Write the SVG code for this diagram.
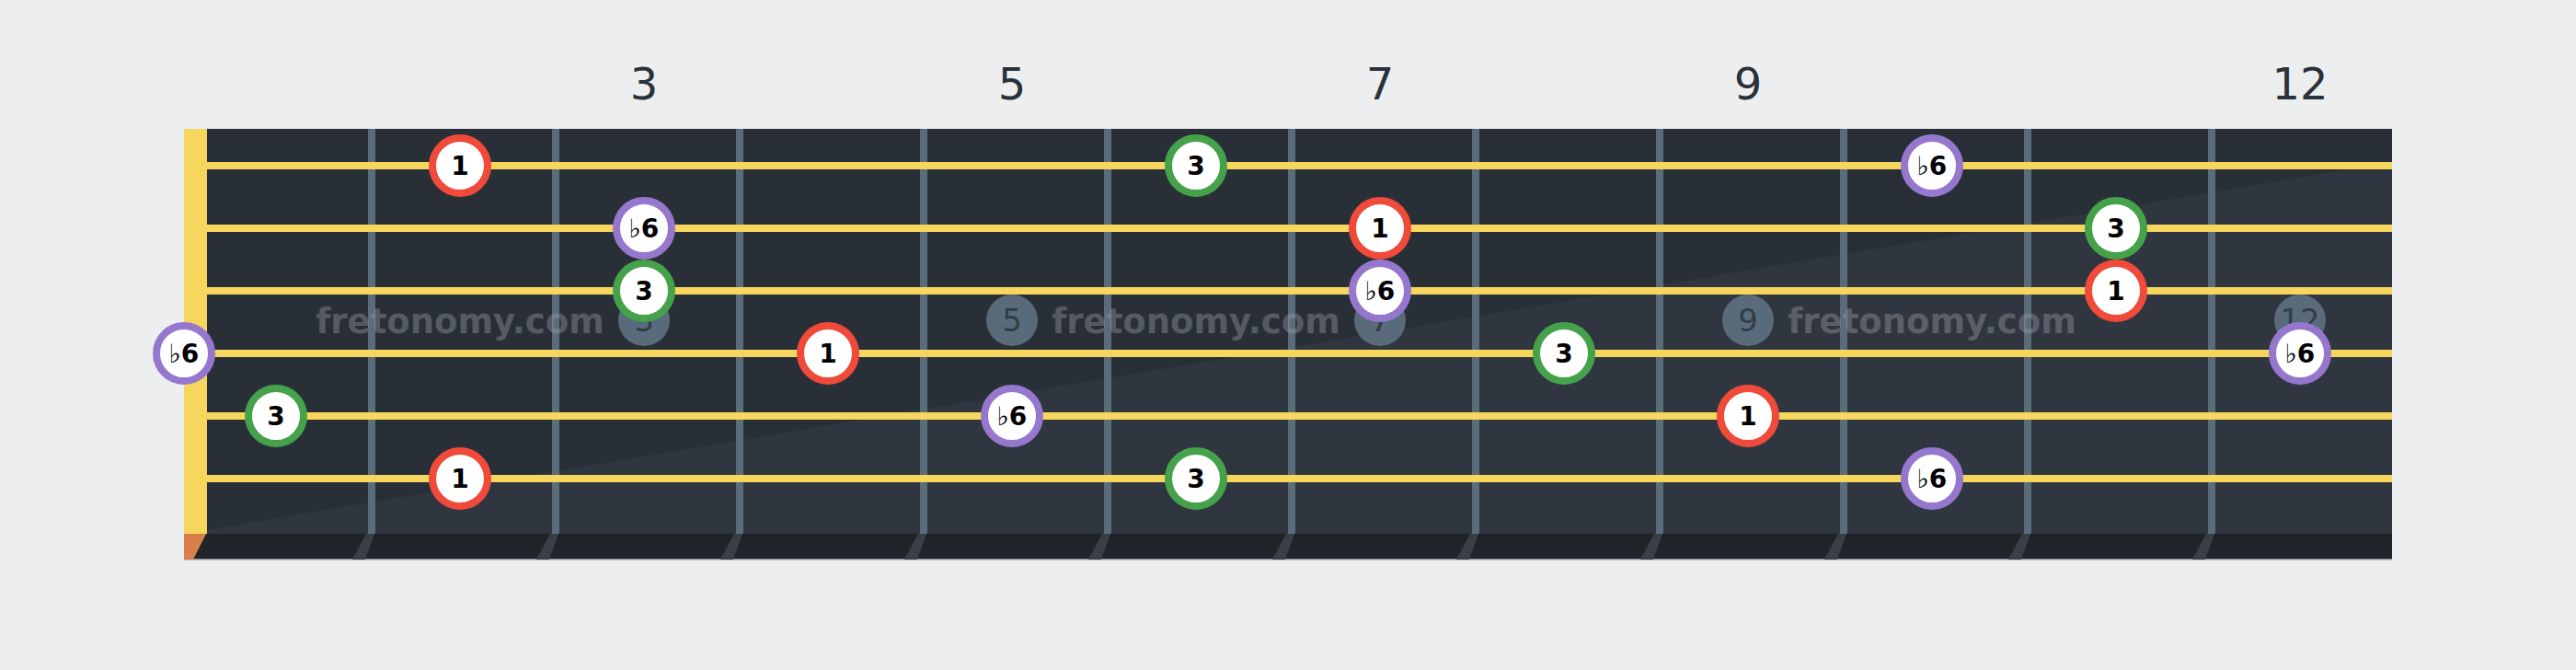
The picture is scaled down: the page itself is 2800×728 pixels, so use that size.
<svg xmlns="http://www.w3.org/2000/svg" width="2800" height="728" viewBox="0 0 2800 728">
<style>
.fn{font-family:"DejaVu Sans","Liberation Sans",sans-serif;font-size:48px;fill:#2B3139;text-anchor:middle}
.wm{font-family:"DejaVu Sans","Liberation Sans",sans-serif;font-weight:bold;font-size:37px;fill:#A0A4AE;fill-opacity:0.4;text-anchor:middle}
.inl circle{fill:#596B7A}
.inl text{font-family:"DejaVu Sans","Liberation Sans",sans-serif;font-size:34px;fill:#323C47;text-anchor:middle}
.fret{fill:#5A6B79}
.shadow{fill:#3A4049}
.str{fill:#F7D65E}
.note circle{fill:#FFFFFF;stroke-width:8}
.note text{font-family:"DejaVu Sans","Liberation Sans",sans-serif;font-weight:bold;font-size:28px;fill:#000000;text-anchor:middle}
.note tspan.fl{font-weight:normal}
.r circle{stroke:#EF4A3A}
.g circle{stroke:#45A24A}
.p circle{stroke:#9677CE}
</style>
<rect width="2800" height="728" fill="#EDEEF0"/>
<g id="fret-numbers">
<text class="fn" x="700" y="108">3</text>
<text class="fn" x="1100" y="108">5</text>
<text class="fn" x="1500" y="108">7</text>
<text class="fn" x="1900" y="108">9</text>
<text class="fn" x="2500" y="108">12</text>
</g>
<g id="fretboard">
<rect x="200" y="140" width="2400" height="440" fill="#282F37"/>
<polygon points="200,580 2600,176 2600,580" fill="#30363F"/>
<rect x="200" y="580" width="2400" height="28" fill="#202428"/>
<rect x="200" y="607" width="2400" height="1.5" fill="#8C969E"/>
<polygon points="200,580 224,580 210,608 200,608" fill="#D8804A"/>
<g id="fret-shadows">
<polygon class="shadow" points="398,580 407,580 397,608 383,608"/>
<polygon class="shadow" points="598,580 607,580 597,608 583,608"/>
<polygon class="shadow" points="798,580 807,580 797,608 783,608"/>
<polygon class="shadow" points="998,580 1007,580 997,608 983,608"/>
<polygon class="shadow" points="1198,580 1207,580 1197,608 1183,608"/>
<polygon class="shadow" points="1398,580 1407,580 1397,608 1383,608"/>
<polygon class="shadow" points="1598,580 1607,580 1597,608 1583,608"/>
<polygon class="shadow" points="1798,580 1807,580 1797,608 1783,608"/>
<polygon class="shadow" points="1998,580 2007,580 1997,608 1983,608"/>
<polygon class="shadow" points="2198,580 2207,580 2197,608 2183,608"/>
<polygon class="shadow" points="2398,580 2407,580 2397,608 2383,608"/>
</g>
<g id="frets">
<rect class="fret" x="400" y="140" width="8" height="440"/>
<rect class="fret" x="600" y="140" width="8" height="440"/>
<rect class="fret" x="800" y="140" width="8" height="440"/>
<rect class="fret" x="1000" y="140" width="8" height="440"/>
<rect class="fret" x="1200" y="140" width="8" height="440"/>
<rect class="fret" x="1400" y="140" width="8" height="440"/>
<rect class="fret" x="1600" y="140" width="8" height="440"/>
<rect class="fret" x="1800" y="140" width="8" height="440"/>
<rect class="fret" x="2000" y="140" width="8" height="440"/>
<rect class="fret" x="2200" y="140" width="8" height="440"/>
<rect class="fret" x="2400" y="140" width="8" height="440"/>
</g>
<g id="inlays" class="inl">
<circle cx="700" cy="348" r="28"/><text x="700" y="360">3</text>
<circle cx="1100" cy="348" r="28"/><text x="1100" y="360">5</text>
<circle cx="1500" cy="348" r="28"/><text x="1500" y="360">7</text>
<circle cx="1900" cy="348" r="28"/><text x="1900" y="360">9</text>
<circle cx="2500" cy="348" r="28"/><text x="2500" y="360">12</text>
</g>
<g id="watermark">
<text class="wm" x="500" y="362">fretonomy.com</text>
<text class="wm" x="1300" y="362">fretonomy.com</text>
<text class="wm" x="2100" y="362">fretonomy.com</text>
</g>
<rect id="nut" x="200" y="140" width="25" height="440" fill="#F7D65E"/>
<g id="strings">
<rect class="str" x="225" y="176" width="2375" height="8"/>
<rect class="str" x="225" y="244" width="2375" height="8"/>
<rect class="str" x="225" y="312" width="2375" height="8"/>
<rect class="str" x="225" y="380" width="2375" height="8"/>
<rect class="str" x="225" y="448" width="2375" height="8"/>
<rect class="str" x="225" y="516" width="2375" height="8"/>
</g>
</g>
<g id="connectors"></g>
<g id="notes">
<g id="n-s1-f2" class="note r"><circle cx="500" cy="180" r="30"/><text x="500" y="190">1</text></g>
<g id="n-s1-f6" class="note g"><circle cx="1300" cy="180" r="30"/><text x="1300" y="190">3</text></g>
<g id="n-s1-f10" class="note p"><circle cx="2100" cy="180" r="30"/><text x="2100" y="190"><tspan class="fl">♭</tspan>6</text></g>
<g id="n-s2-f3" class="note p"><circle cx="700" cy="248" r="30"/><text x="700" y="258"><tspan class="fl">♭</tspan>6</text></g>
<g id="n-s2-f7" class="note r"><circle cx="1500" cy="248" r="30"/><text x="1500" y="258">1</text></g>
<g id="n-s2-f11" class="note g"><circle cx="2300" cy="248" r="30"/><text x="2300" y="258">3</text></g>
<g id="n-s3-f3" class="note g"><circle cx="700" cy="316" r="30"/><text x="700" y="326">3</text></g>
<g id="n-s3-f7" class="note p"><circle cx="1500" cy="316" r="30"/><text x="1500" y="326"><tspan class="fl">♭</tspan>6</text></g>
<g id="n-s3-f11" class="note r"><circle cx="2300" cy="316" r="30"/><text x="2300" y="326">1</text></g>
<g id="n-s4-f0" class="note p"><circle cx="200" cy="384" r="30"/><text x="200" y="394"><tspan class="fl">♭</tspan>6</text></g>
<g id="n-s4-f4" class="note r"><circle cx="900" cy="384" r="30"/><text x="900" y="394">1</text></g>
<g id="n-s4-f8" class="note g"><circle cx="1700" cy="384" r="30"/><text x="1700" y="394">3</text></g>
<g id="n-s4-f12" class="note p"><circle cx="2500" cy="384" r="30"/><text x="2500" y="394"><tspan class="fl">♭</tspan>6</text></g>
<g id="n-s5-f1" class="note g"><circle cx="300" cy="452" r="30"/><text x="300" y="462">3</text></g>
<g id="n-s5-f5" class="note p"><circle cx="1100" cy="452" r="30"/><text x="1100" y="462"><tspan class="fl">♭</tspan>6</text></g>
<g id="n-s5-f9" class="note r"><circle cx="1900" cy="452" r="30"/><text x="1900" y="462">1</text></g>
<g id="n-s6-f2" class="note r"><circle cx="500" cy="520" r="30"/><text x="500" y="530">1</text></g>
<g id="n-s6-f6" class="note g"><circle cx="1300" cy="520" r="30"/><text x="1300" y="530">3</text></g>
<g id="n-s6-f10" class="note p"><circle cx="2100" cy="520" r="30"/><text x="2100" y="530"><tspan class="fl">♭</tspan>6</text></g>
</g>
</svg>
